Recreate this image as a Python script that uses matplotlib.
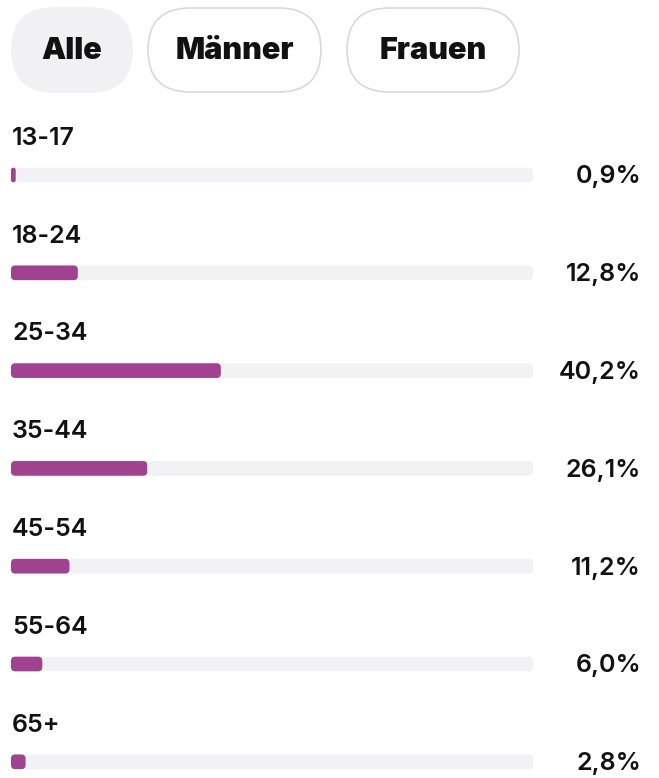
import matplotlib.pyplot as plt
from matplotlib.patches import FancyBboxPatch

plt.rcParams['font.family'] = ['Inter', 'DejaVu Sans']

# data
groups = ["13-17", "18-24", "25-34", "35-44", "45-54", "55-64", "65+"]
shares = [0.9, 12.8, 40.2, 26.1, 11.2, 6.0, 2.8]
tabs = ["Alle", "Männer", "Frauen"]

W, H = 659, 778
fig = plt.figure(figsize=(W / 100, H / 100), dpi=100)

# overlay axes in pixel coords for the tab buttons
top = fig.add_axes([0, 0, 1, 1])
top.set_xlim(0, W)
top.set_ylim(H, 0)
top.axis("off")

pills = [(12, 8, 120, 84), (148, 8, 173, 84), (347, 8, 172, 84)]
for (x, y, w, h), name, active in zip(pills, tabs, [True, False, False]):
    box = FancyBboxPatch((x, y), w, h,
                         boxstyle=f"round,pad=0,rounding_size={h / 2}",
                         fc="#f1f1f3" if active else "white",
                         ec="#f1f1f3" if active else "#d9d9d9", lw=1.2)
    top.add_patch(box)
    top.text(x + w / 2, y + h / 2 + 1, name, ha="center", va="center",
             fontsize=22, fontweight="black", color="#111111")

# bar axes: track spans 11..533 px
ax = fig.add_axes([11 / W, 0, 522 / W, 1])
ax.set_xlim(0, 100)
ax.set_ylim(603 / 97.8, -175 / 97.8)
ax.axis("off")

ypos = list(range(len(groups)))
track = ax.barh(ypos, [100] * len(groups), height=0.15, color="#f2f2f4")
bars = ax.barh(ypos, shares, height=0.15, color="#a0428f")

# swap the square bars for rounded ones of the same size
aspect = (522 / 100) / 97.8
for patch in list(track) + list(bars):
    bx, by = patch.get_x(), patch.get_y()
    bw, bh = patch.get_width(), patch.get_height()
    r = min(0.8, bw / 2)
    ax.add_patch(FancyBboxPatch((bx, by), bw, bh,
                                boxstyle=f"round,pad=0,rounding_size={r}",
                                mutation_aspect=aspect,
                                fc=patch.get_facecolor(), ec="none"))
    patch.set_visible(False)

for i, (g, v) in enumerate(zip(groups, shares)):
    ax.text(0.2, i - 0.375, g, ha="left", va="center", fontsize=18,
            fontweight="semibold", color="#111111")
    ax.text(120.7, i + 0.02, f"{v:.1f}%".replace(".", ","), ha="right",
            va="center", fontsize=18, fontweight="semibold", color="#111111",
            clip_on=False)

fig.savefig("out.png", dpi=100)
